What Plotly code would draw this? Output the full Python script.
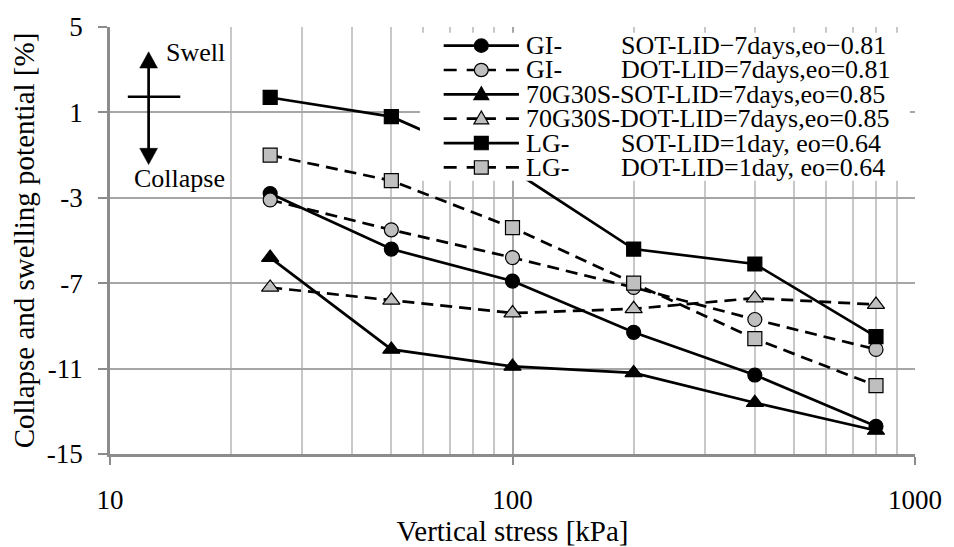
import plotly.graph_objects as go

# Vertical stress steps [kPa]
stress = [25, 50, 100, 200, 400, 800]

# Collapse (-) / swelling (+) potential [%]
gi_sot = [-2.8, -5.4, -6.9, -9.3, -11.3, -13.7]
gi_dot = [-3.1, -4.5, -5.8, -7.2, -8.7, -10.1]
g70_sot = [-5.8, -10.1, -10.9, -11.2, -12.6, -13.9]
g70_dot = [-7.2, -7.8, -8.4, -8.2, -7.7, -8.0]
lg_sot = [1.7, 0.8, -1.7, -5.4, -6.1, -9.5]
lg_dot = [-1.0, -2.2, -4.4, -7.0, -9.6, -11.8]

y_ticks = [5, 1, -3, -7, -11, -15]
y_tick_text = ["5", "1", "-3", "-7", "-11", "-15"]
x_ticks = [10, 100, 1000]
x_tick_text = ["10", "100", "1000"]

# legend rows: (prefix, suffix, dashed, symbol, filled)
legend_rows = [
    ("GI-", "SOT-LID\u22127days,eo\u22120.81", False, "circle", True),
    ("GI-", "DOT-LID=7days,eo=0.81", True, "circle", False),
    ("70G30S-SOT-LID=7days,eo=0.85", "", False, "triangle", True),
    ("70G30S-DOT-LID=7days,eo=0.85", "", True, "triangle", False),
    ("LG-", "SOT-LID=1day, eo=0.64", False, "square", True),
    ("LG-", "DOT-LID=1day, eo=0.64", True, "square", False),
]

FONT = "Liberation Serif, Times New Roman, serif"
GREY_FILL = "#bfbfbf"
DASH = "12px,7px"

W, H = 954, 547
PL, PR, PT, PB = 110, 923, 18, 465


def px(x):
    return (x - PL) / (PR - PL)


def py(y):
    return (PB - y) / (PB - PT)


series = [
    (gi_sot, "circle", True, False),
    (gi_dot, "circle", False, True),
    (g70_sot, "triangle-up", True, False),
    (g70_dot, "triangle-up", False, True),
    (lg_sot, "square", True, False),
    (lg_dot, "square", False, True),
]

fig = go.Figure()
for vals, sym, filled, dashed in series:
    size = 15 if sym == "triangle-up" else 14
    fig.add_trace(go.Scatter(
        x=stress, y=vals, mode="lines+markers",
        line=dict(color="black", width=2.7, dash=DASH if dashed else "solid"),
        marker=dict(symbol=sym, size=size,
                    color="black" if filled else GREY_FILL,
                    line=dict(color="black", width=1.2)),
        showlegend=False, hoverinfo="skip",
    ))

shapes = []
annotations = []

# Swell / collapse indicator
ax = 149
shapes.append(dict(type="line", xref="paper", yref="paper",
                   x0=px(ax), x1=px(ax), y0=py(58), y1=py(150),
                   line=dict(color="black", width=2.7), layer="above"))
shapes.append(dict(type="line", xref="paper", yref="paper",
                   x0=px(128), x1=px(181), y0=py(91), y1=py(91),
                   line=dict(color="black", width=2.5), layer="above"))
for tip, base in ((44, 61), (162, 145)):
    shapes.append(dict(
        type="path", xref="paper", yref="paper", layer="above",
        path=f"M{px(ax)},{py(tip)} L{px(ax - 9)},{py(base)} L{px(ax + 9)},{py(base)} Z",
        fillcolor="black", line=dict(color="black", width=0.5)))
annotations.append(dict(xref="paper", yref="paper", x=px(165), y=py(45),
                        xanchor="left", yanchor="middle", showarrow=False,
                        text="Swell", font=dict(family=FONT, size=26, color="black")))
annotations.append(dict(xref="paper", yref="paper", x=px(132), y=py(177),
                        xanchor="left", yanchor="middle", showarrow=False,
                        text="Collapse", font=dict(family=FONT, size=26, color="black")))

# Legend box
shapes.append(dict(type="rect", xref="paper", yref="paper", layer="above",
                   x0=px(423), x1=px(918), y0=py(24), y1=py(179),
                   fillcolor="white", line=dict(width=0)))
lx0, lx1, lxc = 447, 523, 485
for i, (pre, suf, dashed, sym, filled) in enumerate(legend_rows):
    yc = 37.5 + 25.5 * i
    if dashed:
        for a, b in ((lx0, lxc), (lx1, lxc)):
            shapes.append(dict(type="line", xref="paper", yref="paper", layer="above",
                               x0=px(a), x1=px(b), y0=py(yc), y1=py(yc),
                               line=dict(color="black", width=2.7, dash="13px,10px")))
    else:
        shapes.append(dict(type="line", xref="paper", yref="paper", layer="above",
                           x0=px(lx0), x1=px(lx1), y0=py(yc), y1=py(yc),
                           line=dict(color="black", width=2.7)))
    fc = "black" if filled else GREY_FILL
    mk = dict(xref="paper", yref="paper", layer="above", fillcolor=fc,
              line=dict(color="black", width=1.2))
    if sym == "circle":
        shapes.append(dict(type="circle", x0=px(lxc - 7), x1=px(lxc + 7),
                           y0=py(yc - 7), y1=py(yc + 7), **mk))
    elif sym == "square":
        shapes.append(dict(type="rect", x0=px(lxc - 7), x1=px(lxc + 7),
                           y0=py(yc - 7), y1=py(yc + 7), **mk))
    else:
        shapes.append(dict(type="path",
                           path=f"M{px(lxc)},{py(yc - 8)} L{px(lxc - 7.5)},{py(yc + 5.5)} "
                                f"L{px(lxc + 7.5)},{py(yc + 5.5)} Z", **mk))
    annotations.append(dict(xref="paper", yref="paper", x=px(528), y=py(yc),
                            xanchor="left", yanchor="middle", showarrow=False,
                            text=pre, font=dict(family=FONT, size=26, color="black")))
    if suf:
        annotations.append(dict(xref="paper", yref="paper", x=px(624), y=py(yc),
                                xanchor="left", yanchor="middle", showarrow=False,
                                text=suf, font=dict(family=FONT, size=26, color="black")))

fig.update_layout(
    width=W, height=H,
    margin=dict(l=PL, r=W - PR, t=PT, b=H - PB),
    paper_bgcolor="white", plot_bgcolor="white",
    font=dict(family=FONT, color="black"),
    shapes=shapes, annotations=annotations,
    showlegend=False,
)
fig.update_xaxes(
    type="log", range=[1, 3],
    tickmode="array", tickvals=x_ticks, ticktext=x_tick_text,
    tickfont=dict(family=FONT, size=27, color="black"),
    ticks="outside", ticklen=8, tickwidth=2, tickcolor="#8c8c8c",
    ticklabelstandoff=12,
    showline=True, linecolor="#8c8c8c", linewidth=2.5,
    showgrid=True, gridcolor="#a6a6a6", gridwidth=2,
    minor=dict(dtick="D1", showgrid=True, gridcolor="#c8c8c8", gridwidth=2, ticks=""),
    zeroline=False,
    title=dict(text="Vertical stress [kPa]", font=dict(family=FONT, size=29, color="black"),
               standoff=0),
)
fig.update_yaxes(
    range=[-15, 5],
    tickmode="array", tickvals=y_ticks, ticktext=y_tick_text,
    tickfont=dict(family=FONT, size=27, color="black"),
    ticks="outside", ticklen=9, tickwidth=2, tickcolor="#8c8c8c",
    ticklabelstandoff=10,
    showline=True, linecolor="#8c8c8c", linewidth=2.5,
    showgrid=True, gridcolor="#a6a6a6", gridwidth=2,
    zeroline=False,
    title=dict(text="Collapse and swelling potential [%]",
               font=dict(family=FONT, size=29, color="black"), standoff=4),
)

fig.write_html("out.html")
